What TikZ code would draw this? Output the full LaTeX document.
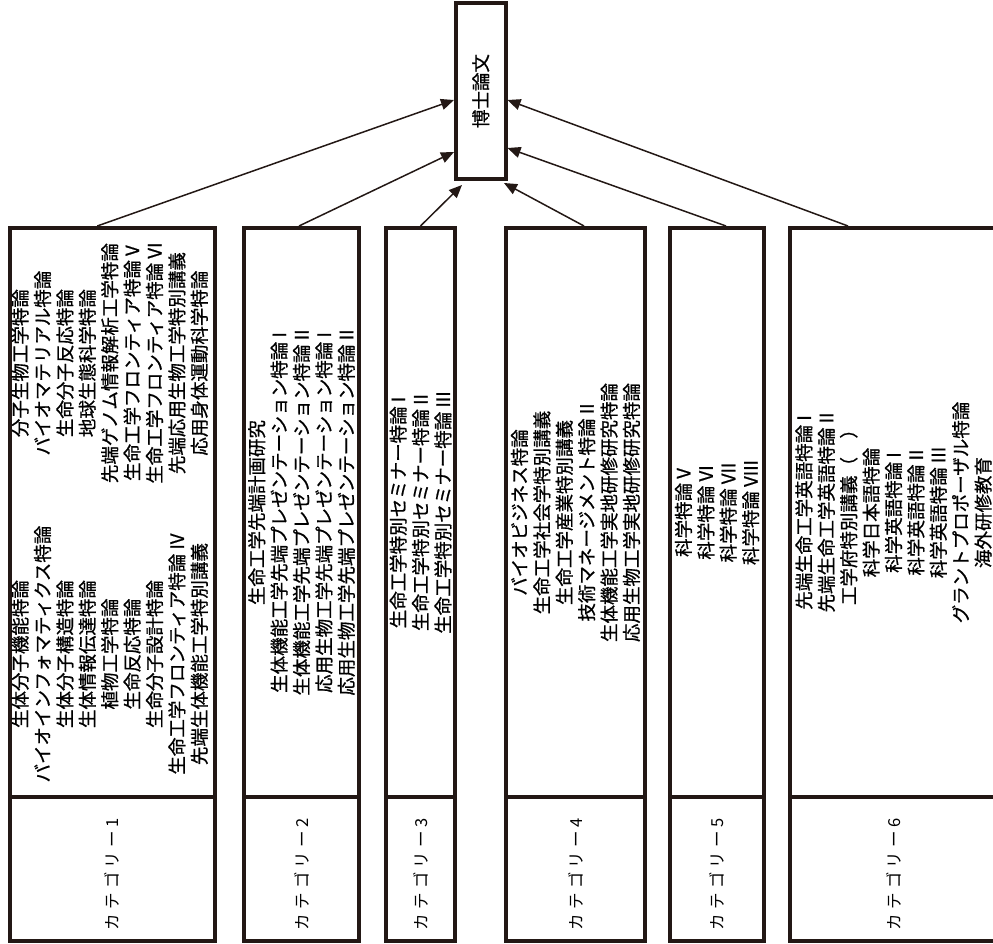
\documentclass[tikz,border=0pt]{standalone}
\usepackage{fontspec}
\usepackage{tikz}
\usetikzlibrary{arrows.meta,positioning}
\newfontfamily\jpfont[FakeBold=0.8]{Noto Sans CJK JP}
\newfontfamily\catfont[LetterSpace=25]{Noto Sans CJK JP}
\definecolor{inkline}{HTML}{231815}

\begin{document}
\begin{tikzpicture}[x=1pt,y=-1pt,
  frame/.style={draw=inkline,line width=4pt,inner sep=0pt},
  course/.style={font=\jpfont\fontsize{18.5}{22.4}\selectfont,rotate=90,inner sep=0pt},
  courselist/.style={course,align=center},
  catlabel/.style={font=\catfont\fontsize{16.5}{18}\selectfont,rotate=90,inner sep=0pt},
  feed/.style={draw=inkline,line width=1.5pt,-{Triangle[length=13pt,width=11pt]}}]
  \useasboundingbox (0,0) rectangle (993,944);
  \clip (0,0) rectangle (993,944);
  \node[frame,minimum width=49.5pt,minimum height=176pt] (doc) at (480.75,91) {};
  \node[course] (doctxt) at (doc.center) {博士論文};
  \foreach \k/\cx/\w in {1/112.25/205.5,2/301.5/115,3/420.5/69,4/575.5/139,5/717/94,6/893.5/207}{
    \node[frame,minimum width=\w pt,minimum height=569pt] (c\k) at (\cx,512.5) {};
    \node[frame,minimum width=\w pt,minimum height=144pt] (l\k) at (\cx,869) {};
    \node[catlabel] (n\k) at ([yshift=-5pt]l\k.center) {カテゴリー\k};
  }
  \node[course] (t1) at (c1.center) {\begin{tabular}{@{}c@{\hspace{42pt}}c@{}}
    生体分子機能特論 & 分子生物工学特論\\
    バイオインフォマティクス特論 & バイオマテリアル特論\\
    生体分子構造特論 & 生命分子反応特論\\
    生体情報伝達特論 & 地球生態科学特論\\
    植物工学特論 & 先端ゲノム情報解析工学特論\\
    生命反応特論 & 生命工学フロンティア特論 V\\
    生命分子設計特論 & 生命工学フロンティア特論 VI\\
    生命工学フロンティア特論 IV & 先端応用生物工学特別講義\\
    先端生体機能工学特別講義 & 応用身体運動科学特論
  \end{tabular}};
  \node[courselist] (t2) at (c2.center) {生命工学先端計画研究\\生体機能工学先端プレゼンテーション特論 I\\生体機能工学先端プレゼンテーション特論 II\\応用生物工学先端プレゼンテーション特論 I\\応用生物工学先端プレゼンテーション特論 II};
  \node[courselist] (t3) at (c3.center) {生命工学特別セミナー特論 I\\生命工学特別セミナー特論 II\\生命工学特別セミナー特論 III};
  \node[courselist] (t4) at (c4.center) {バイオビジネス特論\\生命工学社会学特別講義\\生命工学産業特別講義\\技術マネージメント特論 II\\生体機能工学実地研修研究特論\\応用生物工学実地研修研究特論};
  \node[courselist] (t5) at (c5.center) {科学特論 V\\科学特論 VI\\科学特論 VII\\科学特論 VIII};
  \node[courselist] (t6) at (c6.center) {先端生命工学英語特論 I\\先端生命工学英語特論 II\\工学府特別講義（　）\\科学日本語特論\\科学英語特論 I\\科学英語特論 II\\科学英語特論 III\\グラントプロポーザル特論\\海外研修教育};
  \draw[feed] ([xshift=-15pt]c1.north) -- ([yshift=-9pt]doc.west);
  \draw[feed] ([xshift=-2.5pt]c2.north) -- ([yshift=-61pt]doc.west);
  \draw[feed] (c3.north) -- ([xshift=8pt,yshift=-4pt]doc.south west);
  \draw[feed] ([xshift=8.5pt]c4.north) -- ([xshift=-3.5pt,yshift=-2pt]doc.south east);
  \draw[feed] ([xshift=9pt]c5.north) -- ([yshift=-57pt]doc.east);
  \draw[feed] ([xshift=-45.5pt]c6.north) -- ([yshift=-9pt]doc.east);
\end{tikzpicture}
\end{document}
